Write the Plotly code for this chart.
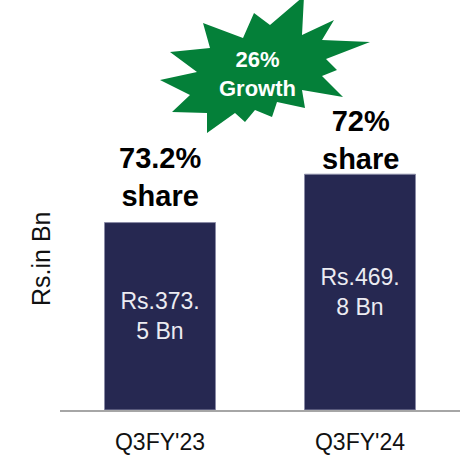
import plotly.graph_objects as go

quarters = ["Q3FY'23", "Q3FY'24"]
values = [373.5, 469.8]
bar_text = ["Rs.373.<br>5 Bn", "Rs.469.<br>8 Bn"]
share_text = ["73.2%<br>share", "72%<br>share"]
growth_text = "26%<br>Growth"
y_title = "Rs.in Bn"

FONT = "Arial, Liberation Sans, sans-serif"
W, H = 467, 455
L, R, T, B = 60, 7, 8, 45


def px(x):
    return (x - L) / (W - L - R)


def py(y):
    return (H - B - y) / (H - T - B)


fig = go.Figure()
fig.add_trace(go.Bar(
    x=quarters, y=values, text=bar_text,
    textposition="inside", insidetextanchor="middle",
    textfont=dict(family=FONT, size=23, color="#ececf2"),
    marker=dict(color="#262851", line=dict(color="#8a8ba6", width=1)),
    hoverinfo="skip",
))

# starburst outline in pixel coords
star = [(304, -4), (302, 35), (334, 20), (322, 40), (370, 42), (326, 59),
        (337, 70), (322, 76), (343, 97), (302, 90), (305, 108), (277, 102),
        (272, 117), (255, 110), (245, 122), (235, 113), (207, 133), (207, 113),
        (172, 112), (190, 95), (160, 80), (197, 72), (170, 52), (210, 48),
        (203, 23), (243, 38), (254, 13), (270, 25)]
path = "M " + " L ".join("{:.4f},{:.4f}".format(px(a), py(b)) for a, b in star) + " Z"
fig.add_shape(type="path", path=path, xref="paper", yref="paper",
              fillcolor="#048039", line=dict(width=0))

fig.add_annotation(x=px(257), y=py(74), xref="paper", yref="paper",
                   xanchor="center", yanchor="middle",
                   text="<b>" + growth_text + "</b>", showarrow=False,
                   font=dict(family=FONT, size=22, color="white"))

# share labels above bars
share_y = [177, 140]
for i, q in enumerate(quarters):
    fig.add_annotation(x=q, y=py(share_y[i]), xref="x", yref="paper",
                       xanchor="center", yanchor="middle",
                       text="<b>" + share_text[i] + "</b>", showarrow=False,
                       font=dict(family=FONT, size=29, color="black"))

fig.add_annotation(x=px(41), y=py(259), xref="paper", yref="paper",
                   xanchor="center", yanchor="middle",
                   text=y_title, textangle=-90, showarrow=False,
                   font=dict(family=FONT, size=25, color="#111111"))

fig.update_layout(
    width=W, height=H,
    margin=dict(l=L, r=R, t=T, b=B),
    plot_bgcolor="white", paper_bgcolor="white",
    bargap=0.445, showlegend=False,
    xaxis=dict(showline=True, linecolor="#a6a6a6", linewidth=2,
               ticks="outside", ticklen=10, tickcolor="rgba(0,0,0,0)",
               tickfont=dict(family=FONT, size=23, color="#111111"),
               automargin=False),
    yaxis=dict(range=[0, 801], showgrid=False, zeroline=False,
               showticklabels=False, automargin=False),
)

# page has a default 8px body margin; drop it so the figure sits at 0,0
fig.write_html("out.html", config={"displayModeBar": False},
               post_script="document.body.style.margin='0';")
